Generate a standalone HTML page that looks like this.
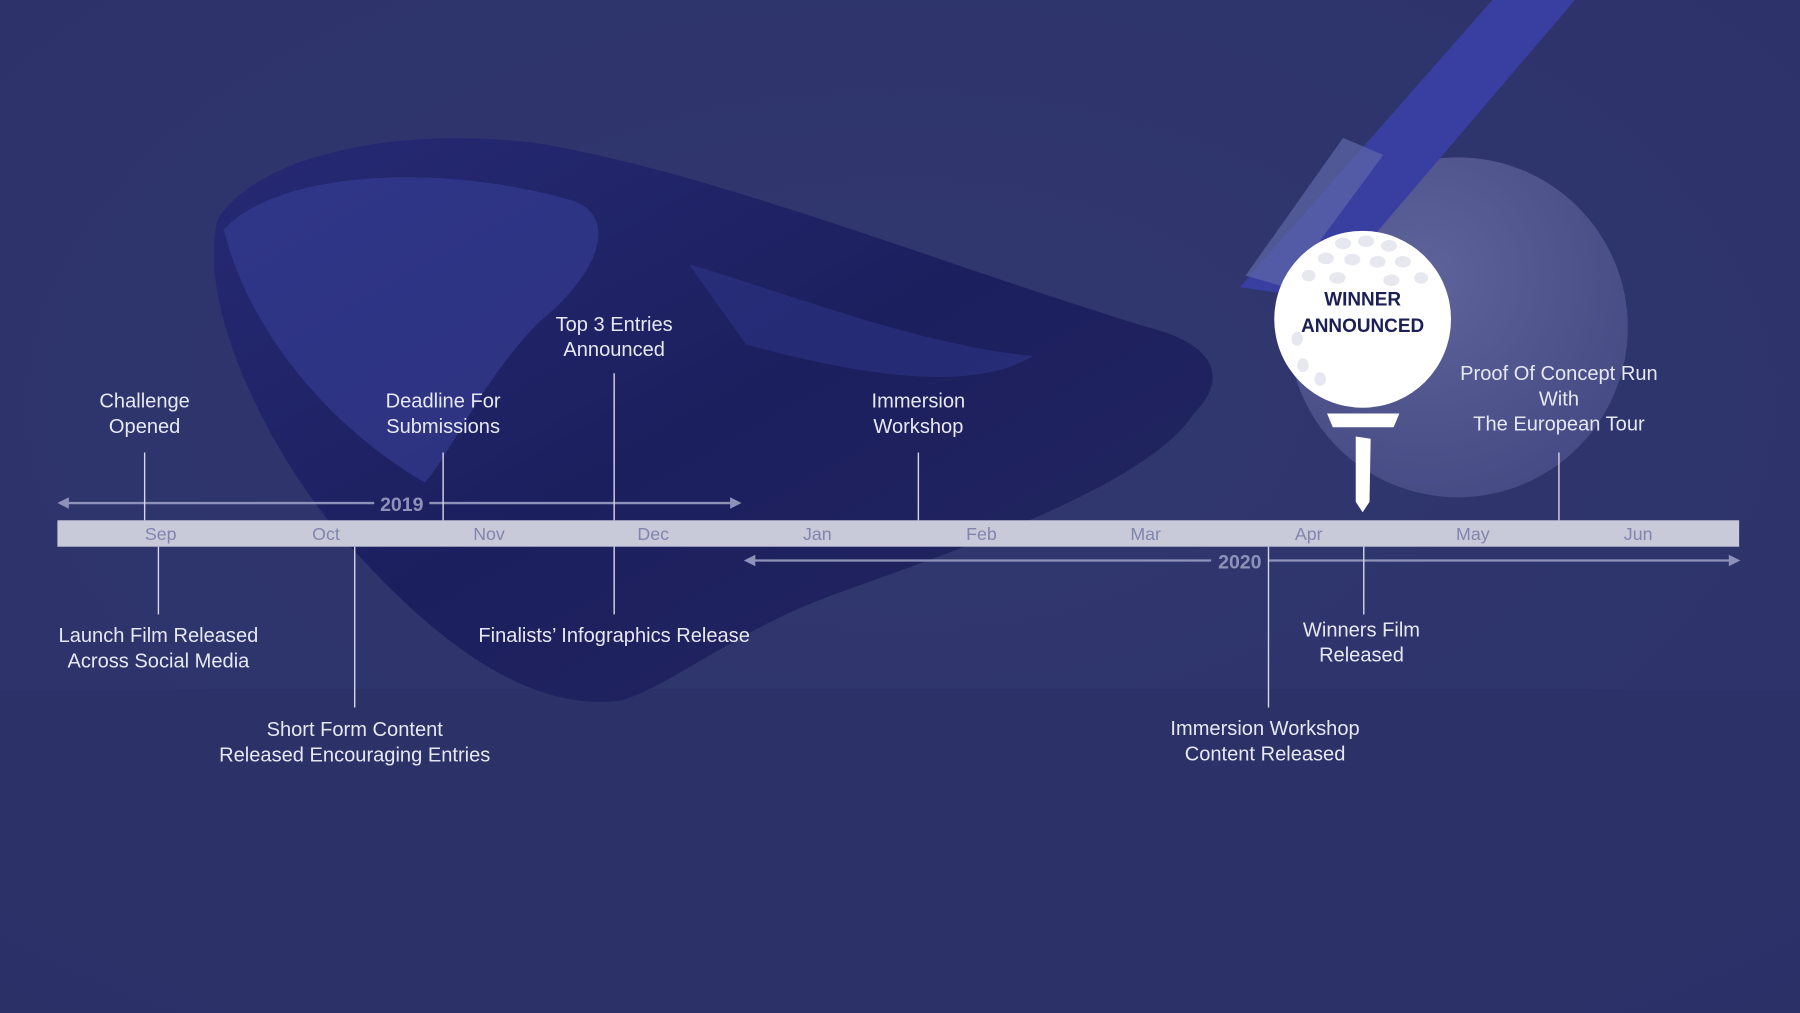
<!DOCTYPE html>
<html><head><meta charset="utf-8"><style>
html,body{margin:0;padding:0;width:1800px;height:1013px;overflow:hidden;background:#2f3470}
svg{display:block}
text{font-family:"Liberation Sans",sans-serif}
</style></head><body>
<svg width="1800" height="1013" viewBox="0 0 1568 882" preserveAspectRatio="none">
<defs>
<radialGradient id="bg" cx="0.5" cy="0.4" r="0.8">
<stop offset="0" stop-color="#31376f"/><stop offset="1" stop-color="#2c316a"/>
</radialGradient>
<radialGradient id="ball2" cx="0.4" cy="0.35" r="0.7">
<stop offset="0" stop-color="#5e639a"/><stop offset="1" stop-color="#454a84"/>
</radialGradient>
<linearGradient id="head" x1="0" y1="0" x2="1" y2="1">
<stop offset="0" stop-color="#262a74"/><stop offset="0.5" stop-color="#1c1f5e"/><stop offset="1" stop-color="#23275e"/>
</linearGradient>
</defs>
<rect width="1568" height="882" fill="url(#bg)"/>
<rect y="600" width="1568" height="282" fill="#2b3066" opacity="0.6"/>
<!-- background ball -->
<circle cx="1270" cy="285" r="148" fill="url(#ball2)"/>
<!-- shaft -->
<polygon points="1300,0 1372,0 1150,260 1080,250" fill="#383fa0"/>
<polygon points="1170,120 1205,135 1120,250 1085,240" fill="#6068a8" opacity="0.7"/>
<!-- club head -->
<path d="M190,190 C230,130 360,110 470,125 C620,150 820,230 1000,285 C1060,300 1070,330 1040,360 C1000,420 860,470 720,520 C640,550 580,600 540,610 C460,620 380,560 300,470 C230,390 170,260 190,190 Z" fill="url(#head)"/>
<path d="M195,200 C240,150 380,140 500,175 C540,190 520,240 470,280 C420,330 390,400 370,420 C300,380 220,300 195,200 Z" fill="#3a419a" opacity="0.55"/>
<path d="M600,230 C700,260 800,300 900,310 C850,340 760,330 650,300 Z" fill="#3a41a0" opacity="0.35"/>

<!-- year arrows -->
<g stroke="#8e92b8" stroke-width="2" fill="#8e92b8">
<line x1="56" y1="438" x2="326" y2="438"/>
<line x1="374" y1="438" x2="640" y2="438"/>
<polygon points="50,438 60,433 60,443" stroke="none"/>
<polygon points="646,438 636,433 636,443" stroke="none"/>
<line x1="654" y1="488" x2="1055" y2="488"/>
<line x1="1105" y1="488" x2="1510" y2="488"/>
<polygon points="648,488 658,483 658,493" stroke="none"/>
<polygon points="1516,488 1506,483 1506,493" stroke="none"/>
</g>
<text x="350" y="445" text-anchor="middle" font-size="17" font-weight="bold" fill="#8e92b8">2019</text>
<text x="1080" y="495" text-anchor="middle" font-size="17" font-weight="bold" fill="#8e92b8">2020</text>

<!-- bar -->
<rect x="50" y="453" width="1465" height="23" fill="#c8cad9"/>
<g font-size="15.5" fill="#8085ad" text-anchor="middle">
<text x="140" y="470">Sep</text><text x="284" y="470">Oct</text><text x="426" y="470">Nov</text>
<text x="569" y="470">Dec</text><text x="712" y="470">Jan</text><text x="855" y="470">Feb</text>
<text x="998" y="470">Mar</text><text x="1140" y="470">Apr</text><text x="1283" y="470">May</text>
<text x="1427" y="470">Jun</text>
</g>

<!-- connectors -->
<g stroke="#d8d9e6" stroke-width="1.2">
<line x1="126" y1="394" x2="126" y2="453"/>
<line x1="386" y1="394" x2="386" y2="453"/>
<line x1="535" y1="325" x2="535" y2="453"/>
<line x1="800" y1="394" x2="800" y2="453"/>
<line x1="1358" y1="394" x2="1358" y2="453"/>
<line x1="138" y1="476" x2="138" y2="535"/>
<line x1="309" y1="476" x2="309" y2="616"/>
<line x1="535" y1="476" x2="535" y2="535"/>
<line x1="1105" y1="476" x2="1105" y2="616"/>
<line x1="1188" y1="476" x2="1188" y2="535"/>
</g>

<!-- labels -->
<g font-size="17.5" fill="#e6e8f2" text-anchor="middle">
<text x="126" y="355">Challenge</text><text x="126" y="377">Opened</text>
<text x="386" y="355">Deadline For</text><text x="386" y="377">Submissions</text>
<text x="535" y="288">Top 3 Entries</text><text x="535" y="310">Announced</text>
<text x="800" y="355">Immersion</text><text x="800" y="377">Workshop</text>
<text x="1358" y="331">Proof Of Concept Run</text><text x="1358" y="353">With</text><text x="1358" y="375">The European Tour</text>
<text x="138" y="559">Launch Film Released</text><text x="138" y="581">Across Social Media</text>
<text x="535" y="559">Finalists’ Infographics Release</text>
<text x="309" y="641">Short Form Content</text><text x="309" y="663">Released Encouraging Entries</text>
<text x="1186" y="554">Winners Film</text><text x="1186" y="576">Released</text>
<text x="1102" y="640">Immersion Workshop</text><text x="1102" y="662">Content Released</text>
</g>

<!-- winner ball -->
<circle cx="1187" cy="278" r="77" fill="#ffffff"/>
<g fill="#e6e7ef">
<ellipse cx="1170" cy="212" rx="7" ry="5"/><ellipse cx="1190" cy="210" rx="7" ry="5"/><ellipse cx="1210" cy="214" rx="7" ry="5"/>
<ellipse cx="1155" cy="225" rx="7" ry="5"/><ellipse cx="1178" cy="226" rx="7" ry="5"/><ellipse cx="1200" cy="228" rx="7" ry="5"/><ellipse cx="1222" cy="228" rx="7" ry="5"/>
<ellipse cx="1140" cy="240" rx="6" ry="5"/><ellipse cx="1165" cy="242" rx="7" ry="5"/><ellipse cx="1212" cy="244" rx="7" ry="5"/><ellipse cx="1238" cy="242" rx="6" ry="5"/>
<ellipse cx="1130" cy="295" rx="5" ry="6"/><ellipse cx="1135" cy="318" rx="5" ry="6"/><ellipse cx="1150" cy="330" rx="5" ry="6"/>
</g>
<text x="1187" y="266" text-anchor="middle" font-size="16.5" font-weight="bold" fill="#1c1f55">WINNER</text>
<text x="1187" y="289" text-anchor="middle" font-size="16.5" font-weight="bold" fill="#1c1f55">ANNOUNCED</text>
<polygon points="1156,360 1219,360 1214,372 1161,372" fill="#ffffff"/>
<polygon points="1181,380 1194,382 1193,437 1187,446 1181,437" fill="#ffffff"/>
</svg>
</body></html>
